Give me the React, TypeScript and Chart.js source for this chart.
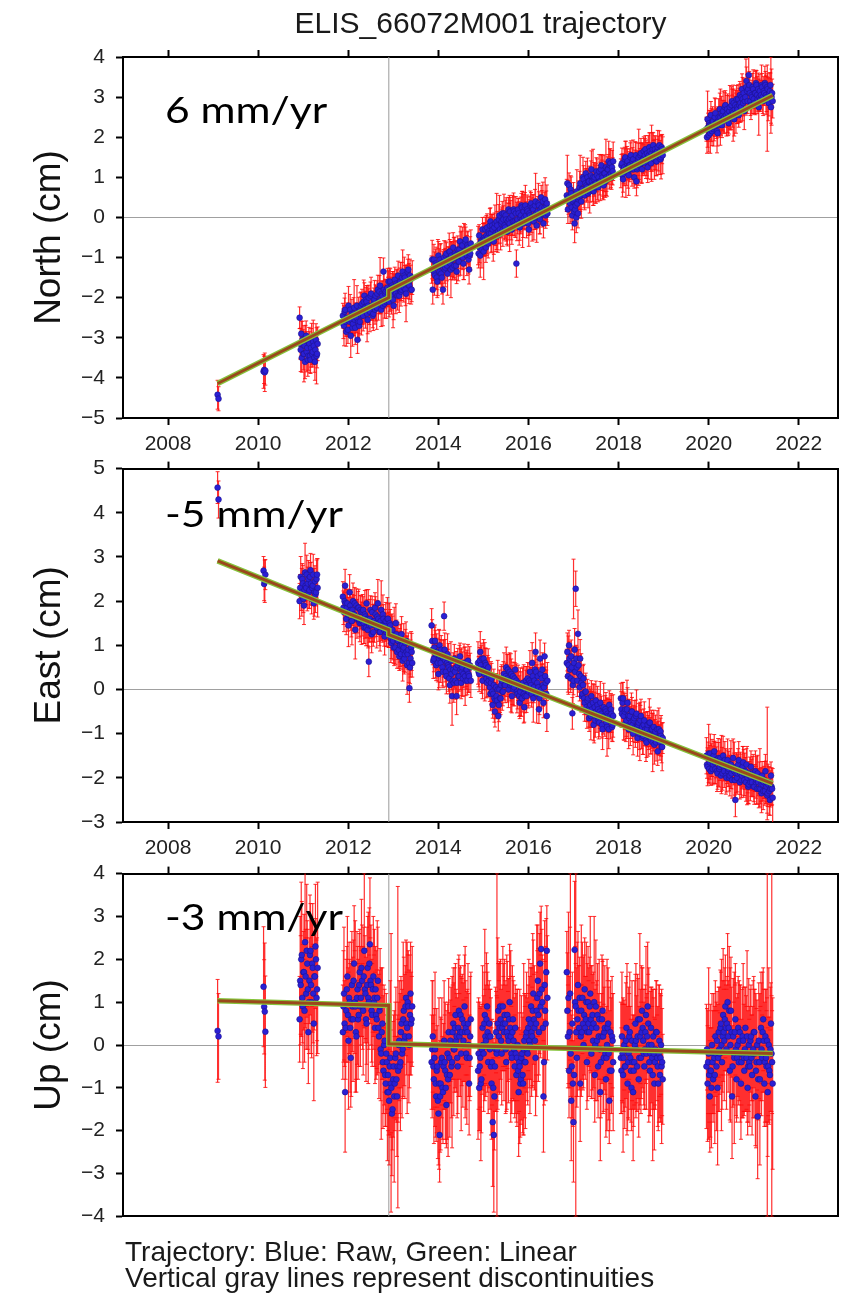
import React, { useEffect, useRef } from 'react';
import { Chart, registerables } from 'chart.js';
Chart.register(...registerables);

// ---------- data ----------
const xMin = 2007.0;
const xMax = 2022.87;
const yearTicks = [2008, 2010, 2012, 2014, 2016, 2018, 2020, 2022];
const discontinuities = [2012.9];

// observation segments (decimal years)
const segStart = [2009.10, 2010.12, 2010.92, 2011.88, 2013.85, 2014.88, 2016.85, 2018.05, 2019.95];
const segEnd = [2009.12, 2010.16, 2011.32, 2013.42, 2014.72, 2016.42, 2017.88, 2018.98, 2021.42];

const northSeg = [
  [-4.42, -4.52],
  [-3.84, -3.8, -3.86, -3.82],
  [-2.5, -3.15, -3.3, -2.9, -3.5, -3.05, -3.1, -3.4, -3.4, -3.2, -3.6, -3.0, -2.95, -3.35, -3.25, -3.55, -3.45, -3.1, -3.15, -3.45, -3.55, -3.25, -3.0, -3.4, -3.35, -3.1, -3.2, -3.5, -3.6, -3.3, -3.05, -3.45, -3.4, -3.15],
  [-2.45, -2.65, -2.7, -2.35, -2.3, -2.6, -2.85, -2.5, -2.55, -2.8, -2.2, -2.5, -2.6, -2.3, -2.95, -2.55, -2.4, -2.75, -2.65, -2.4, -2.25, -2.55, -2.75, -2.45, -2.5, -2.2, -3.05, -2.6, -2.35, -2.7, -2.6, -2.3, -2.2, -2.45,
   -2.15, -2.4, -2.45, -2.1, -1.95, -2.25, -2.3, -2.05, -2.1, -2.4, -2.55, -2.2, -2.0, -2.3, -2.35, -1.95, -1.9, -2.2, -2.2, -2.45, -2.4, -2.1, -2.05, -2.3,
   -1.95, -2.2, -2.25, -1.9, -1.8, -2.1, -2.1, -1.85, -1.7, -2.05, -2.3, -1.9, -1.95, -2.2, -1.35, -1.8, -2.15, -1.9, -1.85, -2.1, -2.05, -1.75,
   -1.85, -1.6, -2.1, -1.8, -1.6, -1.95, -1.95, -1.7, -1.75, -2.05, -2.2, -1.85, -1.55, -1.8, -1.9, -1.65, -1.7, -1.95, -1.45, -1.75, -1.95, -1.6, -1.6, -1.85, -1.8, -1.5, -1.35, -1.7, -1.75, -1.45, -1.5, -1.8, -1.9, -1.6, -1.6, -1.35, -1.3, -1.65, -1.7, -1.45, -1.55, -1.8, -1.8, -1.5],
  [-1.3, -1.05, -1.8, -1.3, -1.05, -1.4, -1.45, -1.15, -1.2, -1.5, -1.6, -1.25, -0.95, -1.2, -1.35, -1.05, -1.15, -1.4, -1.5, -1.2, -1.8, -1.1, -1.0, -1.3, -1.25, -0.95, -0.9, -1.2, -1.4, -1.05, -1.1, -0.85, -0.85, -1.15, -1.3, -0.95, -1.05, -1.25, -0.75, -1.0, -1.2, -0.9, -0.95, -1.2, -1.35, -1.0, -0.8, -1.1, -1.1, -0.8, -0.6, -0.9, -0.95, -0.7, -0.7, -1.0, -1.15, -0.85, -0.85, -0.6, -0.55, -0.9, -0.95, -0.7, -0.75, -1.05, -1.3, -0.95, -0.9, -0.65],
  [-0.7, -0.9, -0.45, -0.75, -0.95, -0.6, -0.6, -0.8, -0.3, -0.55, -0.85, -0.5, -0.55, -0.3, -0.75, -0.45, -0.25, -0.5, -0.65, -0.35, -0.4, -0.2, -0.1, -0.4, -0.5, -0.2, -0.3, -0.55, -0.6, -0.25, -0.15, -0.4, -0.45, -0.1, -0.2, -0.45, -0.35, -0.05, 0.05, -0.3, -0.4, -0.15, -0.1, 0.1, -0.3, -0.05, 0.1, -0.2, -0.25, 0.05, -0.05, -0.35, -0.35, -0.1, 0.2, -0.05, -0.15, 0.15, 0.0, -0.25, -0.3, 0.05, -0.1, 0.2, 0.15, -0.1, -0.2, 0.1, -1.15, -0.1, -0.05, 0.2, 0.1, -0.15, -0.25, 0.0, 0.05, 0.3, 0.25, -0.05, -0.15, 0.15, 0.0, 0.25, 0.3, 0.05, -0.1, 0.2, 0.15, -0.15, -0.3, 0.1, 0.05, 0.3, 0.35, 0.0, -0.05, 0.25, 0.2, -0.1, 0.0, 0.3, 0.4, 0.1, -0.2, 0.05, 0.15, 0.35, 0.3, 0.0, -0.05, 0.2, 0.5, 0.25, 0.1, 0.4, -0.15, 0.1, 0.25, 0.45, 0.05, 0.3, 0.35, 0.1],
  [0.55, 0.85, 0.2, 0.5, 0.8, 0.4, 0.35, 0.7, 0.6, 0.25, 0.05, 0.4, 0.45, 0.15, -0.15, 0.2, 0.3, 0.0, 0.65, 0.35, 0.1, 0.45, 0.5, 0.75, 0.85, 0.55, 0.4, 0.7, 0.7, 1.0, 0.95, 0.65, 0.55, 0.85, 1.1, 0.8, 0.75, 1.0, 0.6, 0.9, 0.9, 0.65, 0.7, 1.05, 1.2, 0.9, 0.8, 1.0, 0.65, 0.95, 1.0, 0.75, 0.85, 1.15, 1.05, 0.8, 0.75, 1.0, 1.15, 0.9, 0.9, 1.2, 1.3, 1.05, 1.0, 0.85, 0.8, 1.1, 1.1, 0.9, 1.25, 1.0, 0.95, 1.2, 1.2, 1.4, 1.05, 1.3, 1.35, 1.1, 1.0, 1.25, 1.15, 1.4],
  [1.1, 1.3, 1.35, 1.05, 0.95, 1.2, 1.25, 1.45, 1.5, 1.2, 1.15, 1.35, 1.4, 1.1, 1.05, 1.3, 1.3, 1.5, 1.55, 1.25, 1.2, 1.4, 1.45, 1.2, 1.0, 1.3, 1.35, 1.55, 0.9, 1.2, 1.25, 1.45, 1.5, 1.3, 1.3, 1.55, 1.6, 1.35, 1.2, 1.45, 1.45, 1.65, 1.35, 1.55, 1.7, 1.45, 1.4, 1.6, 1.25, 1.5, 1.55, 1.75, 1.65, 1.45, 1.35, 1.6, 1.5, 1.7, 1.8, 1.55, 1.45, 1.7, 1.6, 1.4, 1.4, 1.65, 1.75, 1.5, 1.55, 1.8, 1.65, 1.45, 1.5, 1.75, 1.7, 1.55],
  [2.2, 2.0, 2.45, 2.25, 2.05, 2.35, 2.3, 2.1, 2.55, 2.3, 2.15, 2.4, 2.4, 2.2, 2.25, 2.5, 2.6, 2.35, 2.35, 2.15, 2.1, 2.4, 2.5, 2.3, 2.7, 2.5, 2.4, 2.6, 2.3, 2.55, 2.65, 2.45, 2.5, 2.75, 2.8, 2.55, 2.45, 2.7, 2.6, 2.4, 2.35, 2.65, 2.75, 2.5, 2.55, 2.8, 2.9, 2.65, 2.6, 2.85, 2.45, 2.7, 2.8, 2.6, 2.95, 2.75, 2.7, 2.95, 2.55, 2.8, 3.05, 2.85, 2.75, 3.0, 3.2, 2.95, 2.85, 3.1, 2.65, 2.9, 3.0, 3.25, 3.4, 3.15, 2.9, 3.2, 3.55, 3.3, 3.1, 2.9, 2.8, 3.05, 3.0, 3.25, 3.2, 2.95, 2.85, 3.1, 3.1, 3.35, 3.3, 3.05, 2.95, 3.2, 2.75, 3.0, 3.15, 2.95, 3.05, 3.3, 3.25, 3.0, 2.9, 3.15, 3.1, 3.35, 3.3, 3.05, 3.0, 3.25, 3.2, 2.95, 2.85, 3.1, 3.15, 3.3, 2.75, 3.0, 3.1, 2.9],
];

const eastSeg = [
  [4.57, 4.3],
  [2.69, 2.39, 2.45, 2.6],
  [2.0, 2.3, 2.55, 2.15, 2.2, 2.5, 2.4, 2.05, 1.9, 2.25, 2.65, 2.35, 2.3, 2.6, 2.1, 2.4, 2.5, 2.2, 2.25, 2.55, 2.7, 2.4, 2.05, 2.3, 2.35, 2.6, 1.95, 2.2, 2.45, 2.15, 2.2, 2.5, 2.6, 2.3],
  [2.1, 1.85, 1.75, 2.0, 2.35, 1.95, 1.6, 1.85, 1.95, 1.7, 1.45, 1.75, 2.2, 1.9, 1.8, 1.55, 1.55, 1.8, 2.0, 1.7, 1.7, 1.95, 1.35, 1.65, 1.9, 1.6, 1.6, 1.85, 1.85, 1.55, 1.5, 1.8, 1.75, 1.5,
   1.55, 1.75, 1.8, 1.5, 1.4, 1.7, 1.65, 1.4, 1.95, 1.6, 1.35, 1.6, 0.63, 1.45, 1.6, 1.8, 1.45, 1.25, 1.75, 1.5, 1.3, 1.55, 1.55, 1.85,
   1.7, 1.5, 1.4, 1.65, 1.95, 1.6, 1.5, 1.3, 1.3, 1.55, 1.8, 1.45, 1.45, 1.7, 1.6, 1.35, 1.2, 1.45, 1.55, 1.3, 1.35, 1.6,
   1.6, 1.35, 1.25, 1.5, 1.45, 1.15, 1.05, 1.3, 1.35, 1.1, 0.95, 1.2, 1.2, 0.95, 1.5, 1.25, 0.85, 1.1, 1.1, 0.9, 0.75, 1.0, 1.0, 0.8, 1.25, 1.0, 0.65, 0.9, 0.95, 0.7, 0.8, 1.05, 1.1, 0.85, 0.55, 0.8, 0.9, 0.6, 0.03, 0.5, 0.7, 0.95, 0.85, 0.6],
  [1.45, 1.1, 0.9, 0.65, 0.7, 0.95, 1.1, 0.8, 0.55, 0.85, 0.85, 0.6, 0.35, 0.7, 1.0, 0.75, 0.6, 0.9, 0.75, 0.5, 0.4, 0.7, 1.66, 0.9, 0.65, 0.4, 0.3, 0.6, 0.8, 0.55, 0.5, 0.25, 0.1, 0.45, 0.65, 0.35, -0.15, 0.2, 0.45, 0.15, 0.7, 0.4, 0.2, 0.5, -0.15, 0.15, 0.55, 0.3, 0.3, 0.6, 0.75, 0.45, 0.15, 0.4, 0.5, 0.25, 0.35, 0.6, 0.6, 0.3, 0.2, 0.45, 0.45, 0.2, 0.65, 0.35, 0.3, 0.55, 0.5, 0.2],
  [0.6, 0.4, 0.35, 0.65, 0.85, 0.55, 0.45, 0.7, 0.2, 0.45, 0.7, 0.35, 0.4, 0.6, 0.55, 0.25, 0.15, 0.4, 0.5, 0.2, 0.3, 0.05, -0.1, 0.15, 0.25, -0.05, -0.35, -0.1, 0.1, -0.2, -0.5, -0.25, 0.05, -0.15, -0.25, 0.0, -0.6, -0.35, 0.0, -0.2, -0.2, 0.1, 0.2, -0.05, -0.05, 0.25, 0.35, 0.1, 0.1, 0.3, 0.5, 0.2, 0.25, 0.45, 0.0, 0.2, 0.4, 0.1, 0.15, 0.35, -0.15, 0.1, 0.3, 0.0, 0.05, 0.25, 0.45, 0.15, 0.2, -0.05, -0.1, 0.15, 0.1, -0.15, -0.3, -0.05, 0.05, -0.2, -0.2, 0.05, 0.15, -0.1, -0.4, -0.15, 0.0, 0.2, -0.15, 0.1, 0.25, 0.0, -0.05, 0.2, 0.4, 0.15, 0.1, -0.1, 0.6, 0.3, -0.2, 0.05, 0.2, 0.45, 0.85, 0.4, -0.1, 0.15, 0.3, 0.05, -0.45, -0.2, 0.7, 0.35, 0.0, 0.25, 0.45, 0.1, -0.3, 0.05, 0.75, 0.3, 0.15, -0.1, -0.6, 0.2],
  [0.6, 0.85, 0.3, 0.55, 1.0, 0.7, 0.45, 0.25, 0.75, 0.5, -0.54, 0.1, 0.2, 0.6, 0.9, 0.4, 2.28, 0.7, 0.5, 0.2, 1.26, 0.55, 0.35, 0.05, 0.7, 0.3, 0.15, -0.15, -0.1, 0.1, 0.25, -0.2, -0.3, -0.05, -0.05, -0.4, -0.5, -0.25, -0.2, -0.45, -0.65, -0.4, -0.35, -0.6, -0.15, -0.45, -0.55, -0.3, -0.8, -0.55, -0.4, -0.7, -0.25, -0.5, -0.6, -0.35, -0.45, -0.7, -0.75, -0.5, -0.3, -0.6, -0.55, -0.8, -0.9, -0.65, -0.4, -0.6, -0.65, -0.45, -0.5, -0.75, -0.85, -0.55, -0.6, -0.9, -0.35, -0.6, -0.7, -0.45, -0.55, -0.85, -0.8, -0.6],
  [-0.2, -0.45, -0.55, -0.3, -0.2, -0.6, -0.8, -0.5, -0.45, -0.75, -0.7, -0.45, -0.3, -0.6, -0.9, -0.65, -0.6, -0.85, -0.75, -0.5, -0.5, -0.8, -1.0, -0.7, -0.65, -0.9, -0.85, -0.6, -0.55, -0.85, -1.1, -0.8, -0.75, -1.0, -0.95, -0.7, -0.6, -0.9, -0.85, -1.1, -1.05, -0.8, -0.7, -0.95, -0.9, -1.15, -1.2, -0.9, -0.8, -1.05, -1.0, -0.75, -0.75, -1.05, -1.15, -0.9, -0.9, -1.2, -1.05, -0.85, -1.25, -1.0, -0.95, -1.2, -1.1, -0.9, -1.4, -1.1, -0.9, -1.15, -1.2, -0.95, -1.05, -1.3, -1.3, -1.1],
  [-1.5, -1.7, -1.75, -1.55, -1.45, -1.8, -1.65, -1.45, -1.85, -1.6, -1.55, -1.8, -1.7, -1.5, -1.4, -1.65, -1.8, -1.6, -1.6, -1.85, -1.9, -1.65, -1.55, -1.8, -1.75, -1.55, -1.95, -1.7, -1.65, -1.9, -1.5, -1.75, -1.85, -1.6, -1.7, -1.95, -2.0, -1.75, -1.6, -1.85, -1.8, -2.0, -1.95, -1.7, -1.7, -1.9, -2.05, -1.8, -1.55, -1.8, -1.85, -2.05, -2.5, -1.9, -1.75, -2.0, -1.9, -1.7, -1.6, -1.85, -2.1, -1.9, -1.8, -2.05, -1.95, -1.75, -1.65, -1.9, -2.05, -1.85, -1.85, -2.1, -1.7, -1.95, -2.0, -2.2, -2.15, -1.95, -1.9, -2.1, -1.75, -2.0, -2.1, -1.9, -1.95, -2.2, -2.2, -2.0, -1.85, -2.1, -2.05, -2.25, -1.9, -2.1, -2.25, -2.0, -2.0, -2.25, -2.15, -2.35, -1.95, -2.15, -2.3, -2.1, -2.05, -2.3, -1.85, -2.1, -2.2, -2.4, -2.35, -2.15, -2.1, -2.3, -2.5, -2.25, -1.95, -2.2, -2.25, -2.45],
];

const upSeg = [
  [0.33, 0.2],
  [1.36, 0.89, 0.78, 0.31],
  [0.6, 1.5, 1.4, 2.0, 2.1, 1.1, 0.9, 1.7, 1.7, 0.8, 2.4, 1.6, 1.2, 2.2, 1.9, 1.3, 0.3, 1.0, 1.5, 2.1, 2.2, 1.4, 1.0, 1.9, 1.8, 1.2, 0.5, 1.6, 1.6, 2.3, 2.0, 1.1, 1.3, 1.8],
  [0.3, 0.9, 1.2, 0.5, -1.1, 0.4, 0.8, 1.3, 1.6, 0.7, 0.1, 1.1, 1.0, 0.4, -0.3, 0.6, 1.4, 0.9, 0.6, 1.5, 1.9, 1.0, 0.9, 0.3, 0.2, 1.1, 1.3, 0.6, 0.7, 1.4, 1.7, 0.9, 1.1, 1.8,
   1.5, 0.9, 0.8, 1.6, 2.2, 1.3, 1.2, 0.6, 0.5, 1.4, 1.8, 1.1, 1.0, 1.9, 2.35, 1.5, 1.4, 0.8, 0.7, 1.3, 1.6, 1.0, 1.1, 0.4,
   1.3, 0.7, 0.6, 1.1, 1.5, 0.4, 0.2, 0.8, 0.9, -0.1, -0.2, 0.3, 0.5, -0.4, -0.6, 0.0, 0.1, -0.7, -0.9, -0.2, -0.4, -1.1,
   -0.7, -1.1, -1.3, -0.5, -0.3, -0.9, -1.0, -1.6, -1.5, -0.8, -0.5, -1.2, -0.9, -0.3, -0.2, -0.8, -1.2, -0.5, -0.6, 0.0, 0.1, -0.5, -0.4, 0.3, 0.5, -0.2, -0.1, 0.6, 0.8, 0.1, 0.2, 0.9, 1.1, 0.5, 0.4, 1.0, 0.9, 0.2, 0.0, 0.7, 1.2, 0.5, 0.6, 0.9],
  [-0.4, -0.1, 0.2, -0.5, -0.8, -0.3, -0.1, -0.9, -1.2, -0.6, -0.5, -1.3, -1.6, -0.9, -2.1, -1.2, -0.9, -0.4, -0.3, -1.0, -1.1, -0.5, 0.1, -0.4, -0.6, -1.0, -1.4, -0.7, -0.2, -0.8, 0.3, -0.3, -0.7, 0.1, 0.0, -0.5, -0.4, 0.3, 0.5, -0.1, -0.1, 0.4, 0.7, 0.1, 0.2, -0.3, -0.5, 0.4, 0.8, 0.2, 0.3, 0.7, -0.2, 0.3, 0.6, 0.0, 0.1, 0.5, 0.9, 0.3, 0.4, -0.2, -0.3, 0.3, 0.5, 0.0, -0.9, -0.3, 0.2, 0.6],
  [-0.6, -0.2, -1.0, -0.5, -0.3, -0.9, -0.8, -0.1, 0.4, 0.0, -0.2, 0.5, 0.7, 0.2, 0.1, 0.6, 0.9, 0.3, -0.4, 0.2, 0.5, -0.1, 0.2, -0.5, -0.9, -0.4, -1.8, -1.0, -2.1, -1.2, -0.5, -0.1, 0.3, -0.2, -0.1, 0.5, 0.8, 0.2, 0.4, 0.9, 0.6, 0.1, -0.2, 0.4, 0.9, 0.5, 0.3, 0.7, 0.5, -0.1, -0.4, 0.3, 0.7, 0.2, 0.1, 0.6, 1.0, 0.4, 0.2, -0.2, -0.3, 0.3, 0.6, 0.1, -0.1, -0.5, 0.4, -0.2, -0.7, -0.3, 0.0, -0.6, -1.1, -0.4, -0.5, -0.9, -0.8, -0.3, -0.2, -0.7, -0.9, -0.1, 0.1, -0.4, -0.4, 0.2, 0.3, -0.1, -0.2, 0.4, 0.6, 0.1, 0.0, 0.5, 0.9, 0.3, 0.2, 0.8, 1.2, 0.6, 0.4, 0.1, -0.3, 0.5, 0.8, 1.1, 1.5, 0.7, 0.3, 1.2, 1.9, 0.9, 2.24, 1.3, 1.0, 0.4, -1.2, -0.4, 1.4, 0.8, 0.5, 1.7, 2.2, 1.1],
  [1.7, 0.8, 0.2, 1.1, -0.6, 0.3, 1.2, -0.2, -1.3, -0.5, 0.5, -0.9, -1.8, -0.7, 2.22, 1.0, 0.9, 0.3, -0.3, 0.6, 1.4, 0.8, 0.4, 1.1, -0.9, 0.2, 0.8, 0.3, 1.1, 0.5, 0.0, 0.7, 1.3, 0.4, 0.6, 1.0, -0.4, 0.3, 1.0, 0.5, 0.3, 0.9, 1.2, 0.6, -0.2, 0.4, 0.7, 0.1, 0.5, 1.0, -0.7, 0.0, 0.9, 0.4, 0.1, 0.7, -0.5, 0.2, 0.6, -0.1, -1.1, -0.4, 0.2, 0.6, 0.8, 0.2, -0.3, 0.3, 0.4, -0.2, -0.8, -0.3, 0.0, 0.4, 0.5, -0.2, -1.3, -0.6, 0.3, -0.1, -0.6, 0.2, 0.1, -0.4],
  [-0.3, -0.6, 0.2, -0.2, -0.7, -0.3, 0.0, -0.5, -0.5, 0.1, 0.4, -0.1, -0.9, -0.4, -0.2, 0.2, 0.3, -0.3, -0.6, -1.0, 0.1, -0.4, -1.1, -0.6, -0.4, 0.0, 0.5, 0.1, -0.1, -0.5, 0.2, 0.6, -0.8, -0.3, 0.6, 0.2, -0.3, 0.3, 0.8, 0.4, 0.1, -0.2, -0.5, -0.1, 0.3, 0.7, -0.2, 0.2, 0.9, 0.5, 0.0, -0.4, -0.6, -0.2, 0.4, 0.0, -0.3, -0.7, 0.2, -0.2, -0.9, -0.4, -0.1, 0.3, 0.3, -0.3, -0.5, -0.9, -0.2, 0.1, -0.7, -0.3, 0.0, -0.5, -0.4, -0.8],
  [-0.5, -0.1, -0.9, -0.4, -0.2, -0.7, -1.2, -0.6, -0.6, -1.0, 0.0, -0.4, -0.8, -0.2, -0.3, -0.7, 0.2, -0.2, -0.5, 0.1, -1.0, -0.3, 0.3, -0.1, -0.2, 0.4, 0.5, 0.0, -0.4, 0.2, 0.7, 0.3, 0.1, 0.6, 0.9, 0.4, -0.1, 0.5, 1.0, 0.2, 0.4, 0.8, -0.6, 0.0, 0.8, 0.3, -1.2, -0.5, 0.2, -0.2, -0.3, 0.3, 0.6, -0.1, -0.8, -0.3, 0.0, 0.4, -0.4, 0.1, 0.3, -0.2, -0.9, -0.4, -0.2, 0.2, 0.1, -0.3, -0.6, -0.1, 0.4, -0.2, -0.3, 0.2, -1.0, -0.5, 0.0, -0.4, -0.5, 0.1, 0.2, -0.3, -0.7, -0.2, -0.1, 0.3, 0.3, -0.2, -1.2, -0.6, -0.4, 0.0, -1.67, -0.8, 0.1, -0.4, -0.8, -0.2, 0.4, -0.1, -0.3, 0.3, 0.6, 0.1, -0.9, -0.4, 0.2, -0.3, -0.5, 0.1, -1.1, -0.5, 0.0, -0.6, -0.7, -0.1, 0.5, -0.2, -0.4, -0.9],
];

// one-sigma error bar lengths (cm), typical values read for each component
const northErr = [0.36, 0.3, 0.42, 0.34, 0.48, 0.36, 0.27, 0.38, 0.54, 0.32, 0.36, 0.46, 0.3, 0.4, 0.7, 0.35, 0.42, 0.31, 0.37, 0.5, 0.34, 0.41, 0.36];
const eastErr = [0.36, 0.42, 0.32, 0.38, 0.48, 0.34, 0.4, 0.3, 0.46, 0.36, 0.54, 0.35, 0.41, 0.31, 0.43, 0.36, 0.66, 0.34, 0.38, 0.44, 0.32, 0.37, 0.42];
const upErr = [1.2, 1.0, 1.4, 1.1, 1.6, 1.3, 1.0, 1.5, 1.15, 1.8, 1.25, 1.05, 1.45, 0.95, 1.35, 1.2, 2.0, 1.1, 1.3, 1.55, 1.0, 1.4, 1.2];

// unusually long error bars
const northSpikeT = [2021.3, 2021.38];
const northSpikeLo = [1.65, 2.1];
const northSpikeHi = [3.8, 4.0];
const eastSpikeT = [2017.0, 2021.3];
const eastSpikeLo = [1.6, -2.95];
const eastSpikeHi = [2.95, -0.4];
const upSpikeT = [2012.95, 2013.1, 2015.3, 2016.93, 2017.05, 2021.3, 2021.4];
const upSpikeLo = [-3.9, -3.8, -4.0, -0.6, -4.0, -4.0, -4.0];
const upSpikeHi = [2.6, 3.7, 4.0, 4.0, 4.0, 4.0, 4.0];

// linear trajectory model (with offset at the discontinuity)
const trendT = [2009.1, 2012.9, 2012.9, 2021.42];
const northTrend = [-4.14, -2.0, -1.82, 3.04];
const eastTrend = [2.91, 1.35, 1.24, -2.13];
const upTrend = [1.03, 0.92, 0.03, -0.2];

// ---------- rendering ----------
const FONT = "'Liberation Sans', Arial, Helvetica, sans-serif";

type Panel = {
  label: string; rate: string; yMin: number; yMax: number;
  seg: number[][]; err: number[];
  spikeT: number[]; spikeLo: number[]; spikeHi: number[];
  trend: number[];
  top: number; height: number; topH: number; bottomH: number; xLabels: boolean; rateTop: number;
};

const panels: Panel[] = [
  { label: 'North (cm)', rate: '6 mm/yr', yMin: -5, yMax: 4, seg: northSeg, err: northErr,
    spikeT: northSpikeT, spikeLo: northSpikeLo, spikeHi: northSpikeHi, trend: northTrend,
    top: 30, height: 430, topH: 27, bottomH: 42, xLabels: true, rateTop: 90 },
  { label: 'East (cm)', rate: '-5 mm/yr', yMin: -3, yMax: 5, seg: eastSeg, err: eastErr,
    spikeT: eastSpikeT, spikeLo: eastSpikeLo, spikeHi: eastSpikeHi, trend: eastTrend,
    top: 445, height: 420, topH: 18, bottomH: 43, xLabels: true, rateTop: 494 },
  { label: 'Up (cm)', rate: '-3 mm/yr', yMin: -4, yMax: 4, seg: upSeg, err: upErr,
    spikeT: upSpikeT, spikeLo: upSpikeLo, spikeHi: upSpikeHi, trend: upTrend,
    top: 850, height: 390, topH: 18, bottomH: 12, xLabels: false, rateTop: 897 },
];

function buildData(p: Panel) {
  const pts: { x: number; y: number }[] = [];
  const bars: { x: number; y: number | null }[] = [];
  let k = 0;
  p.seg.forEach((vals, s) => {
    const t0 = segStart[s];
    const t1 = segEnd[s];
    const n = vals.length;
    vals.forEach((v, i) => {
      const t = n > 1 ? t0 + ((t1 - t0) * i) / (n - 1) : t0;
      const e = p.err[k % p.err.length];
      k++;
      pts.push({ x: t, y: v });
      bars.push({ x: t, y: v - e }, { x: t, y: v + e }, { x: t, y: null });
    });
  });
  p.spikeT.forEach((t, i) => {
    bars.push({ x: t, y: p.spikeLo[i] }, { x: t, y: p.spikeHi[i] }, { x: t, y: null });
  });
  return { pts, bars };
}

const fmt = (v: number) => (v < 0 ? '\u2212' + Math.abs(v) : String(v));

function PanelChart({ p }: { p: Panel }) {
  const ref = useRef<HTMLCanvasElement | null>(null);
  useEffect(() => {
    if (!ref.current) return;
    const { pts, bars } = buildData(p);
    const trendData = trendT.map((t, i) => ({ x: t, y: p.trend[i] }));
    const disc: { x: number; y: number | null }[] = [];
    discontinuities.forEach((t) => disc.push({ x: t, y: p.yMin }, { x: t, y: p.yMax }, { x: t, y: null }));
    const tickFont = { family: FONT, size: 21 };
    const setYearTicks = (a: any) => { a.ticks = yearTicks.map((v) => ({ value: v })); };
    const border = { color: '#000', width: 2 };
    const chart = new Chart(ref.current, {
      type: 'scatter',
      data: {
        datasets: [
          { data: trendData, showLine: true, borderColor: '#9a481c', borderWidth: 3, pointRadius: 0, order: 1 } as any,
          { data: trendData, showLine: true, borderColor: '#86c43c', borderWidth: 5.5, pointRadius: 0, order: 2 } as any,
          { data: pts, pointRadius: 2.9, backgroundColor: '#2a1fd4', borderColor: '#1c128f', borderWidth: 0.6, order: 3 } as any,
          { data: bars, showLine: true, spanGaps: false, borderColor: 'rgba(255,10,10,0.85)', borderWidth: 1.2,
            pointStyle: 'line', pointRadius: 2, pointBorderColor: 'rgba(255,10,10,0.85)', pointBorderWidth: 1, order: 4 } as any,
          { data: disc, showLine: true, spanGaps: false, borderColor: '#999', borderWidth: 1, pointRadius: 0, order: 5 } as any,
        ],
      },
      options: {
        responsive: false,
        animation: false,
        events: [],
        layout: { padding: { left: 0, right: 23, top: 0, bottom: 0 } },
        plugins: { legend: { display: false }, tooltip: { enabled: false } },
        scales: {
          x: {
            type: 'linear', position: 'bottom', min: xMin, max: xMax,
            afterBuildTicks: setYearTicks,
            afterFit: (a: any) => { a.height = p.bottomH; },
            ticks: { display: p.xLabels, autoSkip: false, maxRotation: 0, minRotation: 0, padding: 7, font: tickFont, color: '#222',
              callback: (v: any) => String(v) },
            grid: { drawOnChartArea: false, drawTicks: p.xLabels, tickLength: 7, tickWidth: 2, tickColor: '#000' },
            border,
          },
          x2: {
            type: 'linear', position: 'top', min: xMin, max: xMax,
            afterBuildTicks: setYearTicks,
            afterFit: (a: any) => { a.height = p.topH; },
            ticks: { display: false },
            grid: { drawOnChartArea: false, tickLength: 7, tickWidth: 2, tickColor: '#000' },
            border,
          },
          y: {
            type: 'linear', position: 'left', min: p.yMin, max: p.yMax,
            afterFit: (a: any) => { a.width = 123; },
            ticks: { stepSize: 1, padding: 11, font: tickFont, color: '#222', callback: (v: any) => fmt(Number(v)) },
            grid: {
              color: (c: any) => (c.tick && c.tick.value === 0 ? '#a0a0a0' : 'rgba(0,0,0,0)'),
              lineWidth: 1, tickColor: '#000', tickLength: 7, tickWidth: 2,
            },
            border,
            title: { display: true, text: p.label, color: '#111', font: { family: FONT, size: 37 }, padding: { top: 28, bottom: 0 } },
          },
          y2: {
            type: 'linear', position: 'right', min: p.yMin, max: p.yMax,
            afterFit: (a: any) => { a.width = 2; },
            ticks: { display: false, stepSize: 1 },
            grid: { drawOnChartArea: false, drawTicks: false },
            border,
          },
        },
      } as any,
    });
    return () => chart.destroy();
  }, [p]);
  return (
    <canvas ref={ref} width={863} height={p.height}
      style={{ position: 'absolute', left: 0, top: p.top, width: 863, height: p.height }} />
  );
}

export default function App() {
  return (
    <div style={{ position: 'absolute', left: 0, top: 0, width: 863, height: 1296, background: '#fff', overflow: 'hidden' }}>
      {panels.map((p, i) => <PanelChart key={i} p={p} />)}
      <div style={{ position: 'absolute', left: 123, width: 715, top: 8, textAlign: 'center', fontFamily: FONT,
        fontSize: 30, lineHeight: '30px', color: '#1a1a1a', whiteSpace: 'nowrap' }}>
        ELIS_66072M001 trajectory
      </div>
      {panels.map((p, i) => (
        <div key={'r' + i} style={{ position: 'absolute', left: 165, top: p.rateTop, fontFamily: "Lato, 'Open Sans', sans-serif",
          fontSize: 37, lineHeight: '37px', color: '#000', whiteSpace: 'nowrap', transform: 'scaleX(1.15)', transformOrigin: 'left top' }}>
          {p.rate}
        </div>
      ))}
      <div style={{ position: 'absolute', left: 125, top: 1238, fontFamily: FONT, fontSize: 28, lineHeight: '28px', color: '#1a1a1a', whiteSpace: 'nowrap' }}>
        Trajectory: Blue: Raw, Green: Linear
      </div>
      <div style={{ position: 'absolute', left: 125, top: 1264, fontFamily: FONT, fontSize: 28, lineHeight: '28px', color: '#1a1a1a', whiteSpace: 'nowrap' }}>
        Vertical gray lines represent discontinuities
      </div>
    </div>
  );
}
